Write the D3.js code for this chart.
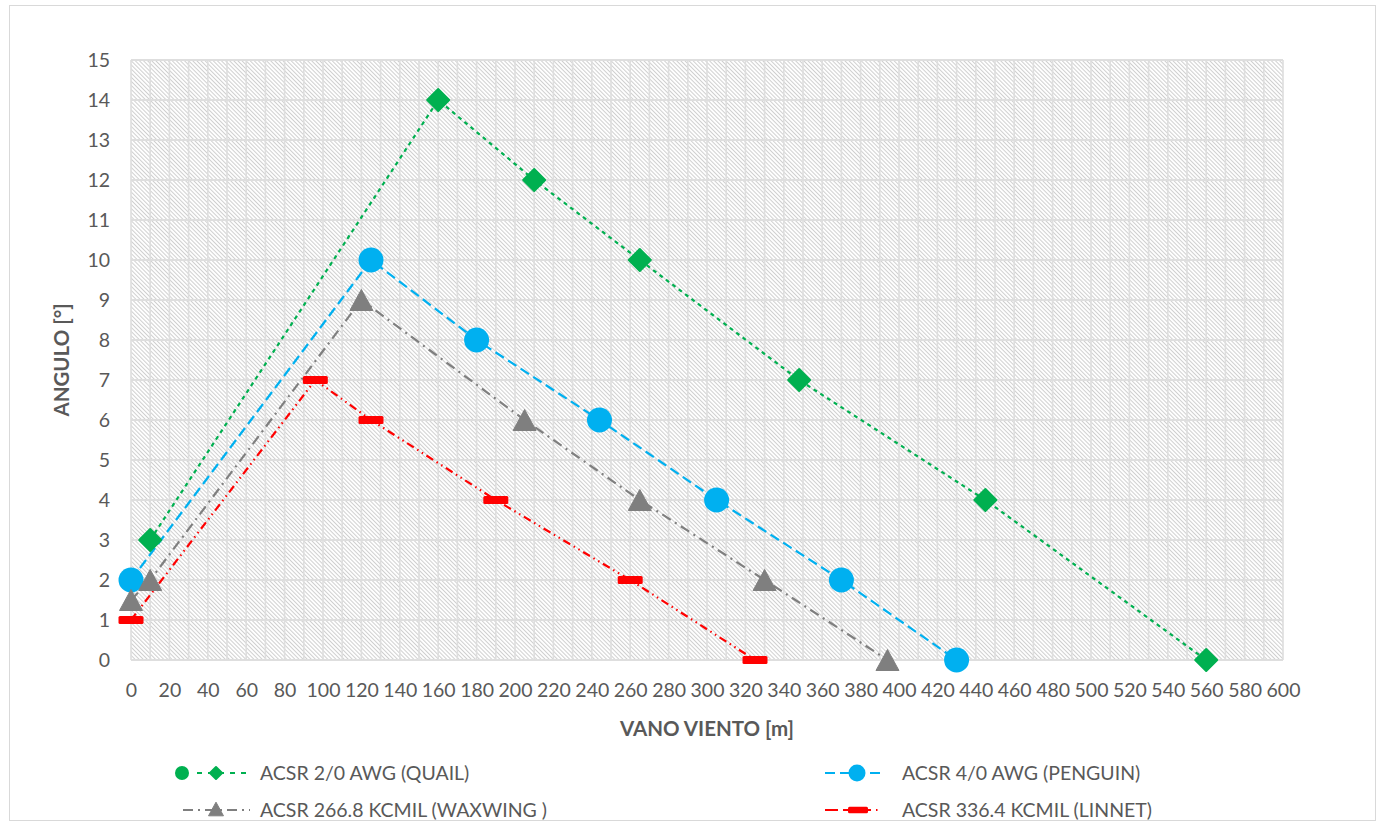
<!DOCTYPE html>
<html><head><meta charset="utf-8">
<script src="https://cdn.jsdelivr.net/npm/d3@7"></script>
<style>
html,body{margin:0;padding:0;background:#fff;}
svg{display:block;font-family:Lato,"Open Sans",sans-serif;}
</style></head>
<body><svg id="chart" width="1382" height="825"></svg>
<script>
// ---- data ----
const quailX   = [10, 160, 210, 265, 348, 445, 560];
const quailY   = [3, 14, 12, 10, 7, 4, 0];
const penguinX = [0, 125, 180, 244, 305, 370, 430];
const penguinY = [2, 10, 8, 6, 4, 2, 0];
const waxwingX = [0, 10, 120, 205, 265, 330, 394];
const waxwingY = [1.5, 2, 9, 6, 4, 2, 0];
const linnetX  = [0, 96, 125, 190, 260, 325];
const linnetY  = [1, 7, 6, 4, 2, 0];
const seriesNames = ["ACSR 2/0 AWG (QUAIL)", "ACSR 4/0 AWG (PENGUIN)", "ACSR 266.8 KCMIL (WAXWING )", "ACSR 336.4 KCMIL (LINNET)"];
const xTicks = d3.range(0, 601, 20);
const yTicks = d3.range(0, 16, 1);
const xTitle = "VANO VIENTO [m]";
const yTitle = "ANGULO [°]";

const svg = d3.select("#chart");
const L = 131, R = 1283, T = 60, B = 660;
const x = d3.scaleLinear().domain([0, 600]).range([L, R]);
const y = d3.scaleLinear().domain([0, 15]).range([B, T]);
const FS = 19.5;

// outer border
svg.append("rect").attr("x", 9.5).attr("y", 5.5).attr("width", 1366).attr("height", 815)
  .attr("fill", "#fff").attr("stroke", "#d9d9d9");

// hatch pattern
const defs = svg.append("defs");
const pat = defs.append("pattern").attr("id", "hatch").attr("patternUnits", "userSpaceOnUse")
  .attr("width", 2.9).attr("height", 10).attr("patternTransform", "rotate(-45)");
pat.append("rect").attr("width", 2.9).attr("height", 10).attr("fill", "#fff");
pat.append("rect").attr("width", 1).attr("height", 10).attr("fill", "#cfcfcf");

svg.append("rect").attr("x", L).attr("y", T).attr("width", R - L).attr("height", B - T)
  .attr("fill", "url(#hatch)");

// gridlines
const g = svg.append("g");
g.selectAll(".vg").data(d3.range(0, 601, 10)).join("line")
  .attr("x1", d => x(d)).attr("x2", d => x(d)).attr("y1", T).attr("y2", B)
  .attr("stroke", "#dedede").attr("stroke-width", 1.6);
g.selectAll(".hg").data(yTicks).join("line")
  .attr("x1", L).attr("x2", R).attr("y1", d => y(d)).attr("y2", d => y(d))
  .attr("stroke", "#dedede").attr("stroke-width", 2);

// axes
const xAxis = svg.append("g").attr("transform", `translate(0,${B})`)
  .call(d3.axisBottom(x).tickValues(xTicks).tickSize(0).tickPadding(23));
xAxis.select(".domain").remove();
xAxis.selectAll("text").attr("font-size", FS).attr("fill", "#595959").attr("font-family", "Lato, sans-serif");

const yAxis = svg.append("g").attr("transform", `translate(${L},0)`)
  .call(d3.axisLeft(y).tickValues(yTicks).tickSize(0).tickPadding(21));
yAxis.select(".domain").remove();
yAxis.selectAll("text").attr("font-size", FS).attr("fill", "#595959").attr("font-family", "Lato, sans-serif");

// titles
svg.append("text").attr("x", (L + R) / 2).attr("y", 736).attr("text-anchor", "middle")
  .attr("font-size", 20.5).attr("font-weight", "bold").attr("fill", "#595959").text(xTitle);
svg.append("text").attr("transform", `translate(69,${(T + B) / 2}) rotate(-90)`).attr("text-anchor", "middle")
  .attr("font-size", 20.5).attr("font-weight", "bold").attr("fill", "#595959").text(yTitle);

// series definitions
const series = [
  {xs: quailX, ys: quailY, color: "#00b050", dash: "4,4", width: 2.2, marker: "diamond"},
  {xs: penguinX, ys: penguinY, color: "#00b0f0", dash: "10,5", width: 2.2, marker: "circle"},
  {xs: waxwingX, ys: waxwingY, color: "#7f7f7f", dash: "10,5,2,5", width: 2.2, marker: "triangle"},
  {xs: linnetX, ys: linnetY, color: "#ff0000", dash: "8,4,1.5,4,1.5,4", width: 2.2, marker: "bar"}
];

function drawMarker(sel, type, color, cx, cy, scale) {
  scale = scale || 1;
  if (type === "circle") {
    sel.append("circle").attr("cx", cx).attr("cy", cy).attr("r", 12.5 * scale).attr("fill", color);
  } else if (type === "diamond") {
    const s = 11 * scale;
    sel.append("path").attr("d", `M${cx},${cy - s}L${cx + s},${cy}L${cx},${cy + s}L${cx - s},${cy}Z`)
      .attr("fill", color).attr("stroke", color).attr("stroke-width", 2).attr("stroke-linejoin", "round");
  } else if (type === "triangle") {
    const w = 11.5 * scale, h = 10.5 * scale;
    sel.append("path").attr("d", `M${cx},${cy - h}L${cx + w},${cy + h}L${cx - w},${cy + h}Z`)
      .attr("fill", color).attr("stroke", color).attr("stroke-width", 1).attr("stroke-linejoin", "round");
  } else if (type === "bar") {
    sel.append("rect").attr("x", cx - 12.5 * scale).attr("y", cy - 4 * scale)
      .attr("width", 25 * scale).attr("height", 8 * scale).attr("rx", 1.5).attr("fill", color);
  }
}

const line = d3.line().x(d => x(d[0])).y(d => y(d[1]));
series.forEach(s => {
  const pts = s.xs.map((v, i) => [v, s.ys[i]]);
  svg.append("path").datum(pts).attr("d", line).attr("fill", "none")
    .attr("stroke", s.color).attr("stroke-width", s.width).attr("stroke-dasharray", s.dash);
});
series.forEach(s => {
  const mg = svg.append("g");
  s.xs.forEach((v, i) => drawMarker(mg, s.marker, s.color, x(v), y(s.ys[i])));
});

// legend
const lg = svg.append("g");
function legendText(tx, ty, t) {
  lg.append("text").attr("x", tx).attr("y", ty).attr("dy", "0.35em").attr("font-size", FS)
    .attr("fill", "#595959").text(t);
}
// quail
let ly = 773;
lg.append("circle").attr("cx", 182).attr("cy", ly).attr("r", 7).attr("fill", "#00b050");
lg.append("line").attr("x1", 197).attr("x2", 246).attr("y1", ly).attr("y2", ly)
  .attr("stroke", "#00b050").attr("stroke-width", 2.2).attr("stroke-dasharray", "5,6");
drawMarker(lg, "diamond", "#00b050", 216, ly, 0.55);
legendText(260, ly, seriesNames[0]);
// penguin
lg.append("line").attr("x1", 825).attr("x2", 884).attr("y1", ly).attr("y2", ly)
  .attr("stroke", "#00b0f0").attr("stroke-width", 2.2).attr("stroke-dasharray", "10,5");
drawMarker(lg, "circle", "#00b0f0", 857, ly, 0.68);
legendText(902, ly, seriesNames[1]);
// waxwing
ly = 810;
lg.append("line").attr("x1", 183).attr("x2", 250).attr("y1", ly).attr("y2", ly)
  .attr("stroke", "#7f7f7f").attr("stroke-width", 2.2).attr("stroke-dasharray", "10,5,2,5");
drawMarker(lg, "triangle", "#7f7f7f", 216, ly - 1, 0.65);
legendText(260, ly, seriesNames[2]);
// linnet
lg.append("line").attr("x1", 825).attr("x2", 886).attr("y1", ly).attr("y2", ly)
  .attr("stroke", "#ff0000").attr("stroke-width", 2.2).attr("stroke-dasharray", "13,5,28,5,1.5");
drawMarker(lg, "bar", "#ff0000", 858, ly, 0.8);
legendText(902, ly, seriesNames[3]);
</script>
</body></html>
